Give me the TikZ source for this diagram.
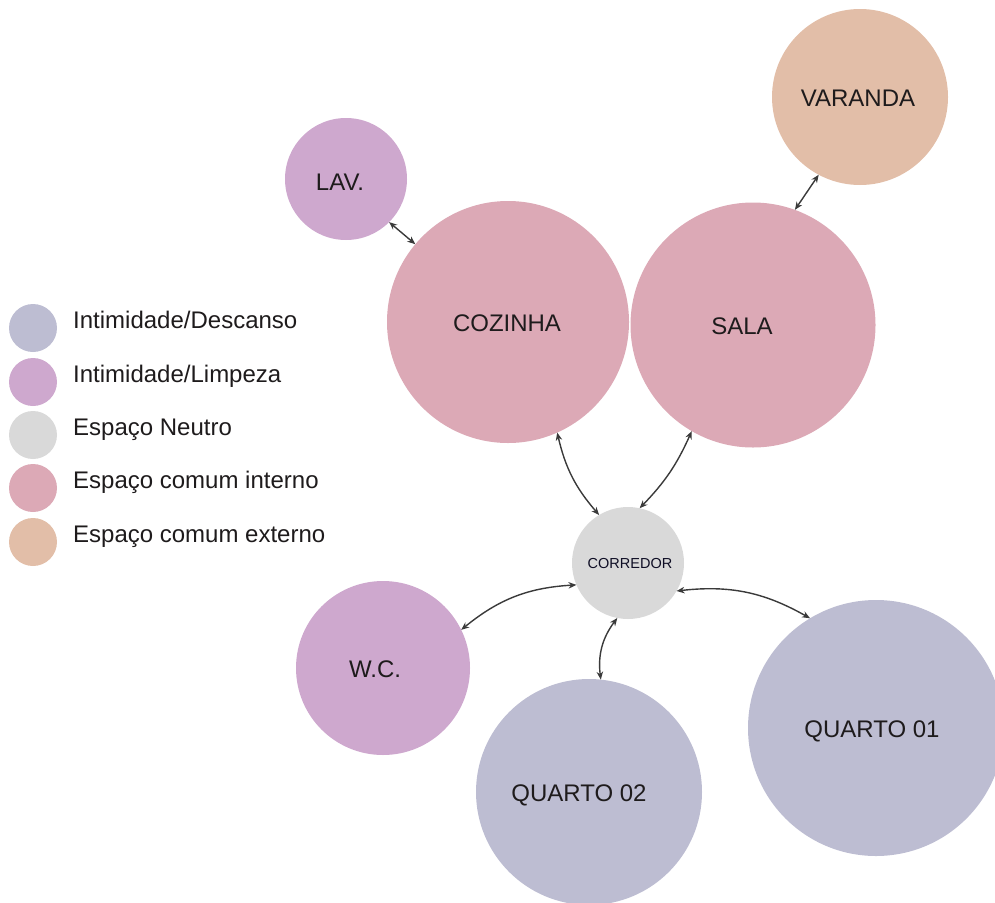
\documentclass[tikz,border=0pt]{standalone}
\usepackage{fontspec}
\setmainfont{Liberation Sans}
\usetikzlibrary{arrows.meta}

\definecolor{descanso}{RGB}{189,189,210}
\definecolor{limpeza}{RGB}{206,168,206}
\definecolor{neutro}{RGB}{217,217,217}
\definecolor{interno}{RGB}{220,169,182}
\definecolor{externo}{RGB}{226,190,168}
\definecolor{ink}{RGB}{30,27,28}
\definecolor{wire}{RGB}{58,58,58}

\tikzset{
  room/.style={circle, draw=none, inner sep=0pt, outer sep=0pt, minimum size=#1},
  roomlabel/.style={anchor=base, text=ink, inner sep=0pt, font=\fontsize{24}{28}\selectfont},
  smalllabel/.style={anchor=base, text=ink!85!blue!60!black, inner sep=0pt, font=\fontsize{14.5}{17}\selectfont},
  link/.style={draw=wire, line width=1.4pt,
    {Stealth[length=8pt,width=6.5pt]}-{Stealth[length=8pt,width=6.5pt]}},
  keydot/.style={circle, draw=none, inner sep=0pt, minimum size=48pt},
  keytext/.style={anchor=base west, text=ink, inner sep=0pt, font=\fontsize{24}{28}\selectfont}
}

\begin{document}
\begin{tikzpicture}[x=1pt, y=-1pt]
  \useasboundingbox (0,0) rectangle (995,902);

  % rooms
  \node[room=176pt, fill=externo]  (varanda) at (860,97)  {};
  \node[room=122pt, fill=limpeza]  (lav)     at (346,179) {};
  \node[room=242pt, fill=interno]  (cozinha) at (508,322) {};
  \node[room=245pt, fill=interno]  (sala)    at (753,325) {};
  \node[room=112pt, fill=neutro]   (corredor) at (628,563) {};
  \node[room=174pt, fill=limpeza]  (wc)      at (383,668) {};
  \node[room=226pt, fill=descanso] (quarto2) at (589,792) {};
  \node[room=256pt, fill=descanso] (quarto1) at (876,728) {};

  % room names
  \node[roomlabel] (tvaranda) at (858,106) {VARANDA};
  \node[roomlabel] (tlav)     at (340,190) {LAV.};
  \node[roomlabel] (tcozinha) at (507,331) {COZINHA};
  \node[roomlabel] (tsala)    at (742,334) {SALA};
  \node[smalllabel] (tcorredor) at (630,568) {CORREDOR};
  \node[roomlabel] (twc)      at (375,677) {W.C.};
  \node[roomlabel] (tquarto2) at (579,801) {QUARTO 02};
  \node[roomlabel] (tquarto1) at (872,737) {QUARTO 01};

  % connections
  \draw[link] (lav.-45.7) -- (cozinha.140.6);
  \draw[link] (varanda.-118) -- (sala.70);
  \draw[link] (cozinha.-66) to[bend right=14] (corredor.121);
  \draw[link] (sala.-120) to[bend left=10] (corredor.78);
  \draw[link] (corredor.-157) to[bend right=18] (wc.26.6);
  \draw[link] (corredor.-101) to[bend right=22] (quarto2.84);
  \draw[link] (corredor.-30) to[bend left=18] (quarto1.121);

  % legend
  \node[keydot, fill=descanso] (k1) at (33,328) {};
  \node[keydot, fill=limpeza]  (k2) at (33,382) {};
  \node[keydot, fill=neutro]   (k3) at (33,435) {};
  \node[keydot, fill=interno]  (k4) at (33,488) {};
  \node[keydot, fill=externo]  (k5) at (33,542) {};
  \node[keytext] (t1) at (73,328) {Intimidade/Descanso};
  \node[keytext] (t2) at (73,382) {Intimidade/Limpeza};
  \node[keytext] (t3) at (73,435) {Espaço Neutro};
  \node[keytext] (t4) at (73,488) {Espaço comum interno};
  \node[keytext] (t5) at (73,542) {Espaço comum externo};
\end{tikzpicture}
\end{document}
